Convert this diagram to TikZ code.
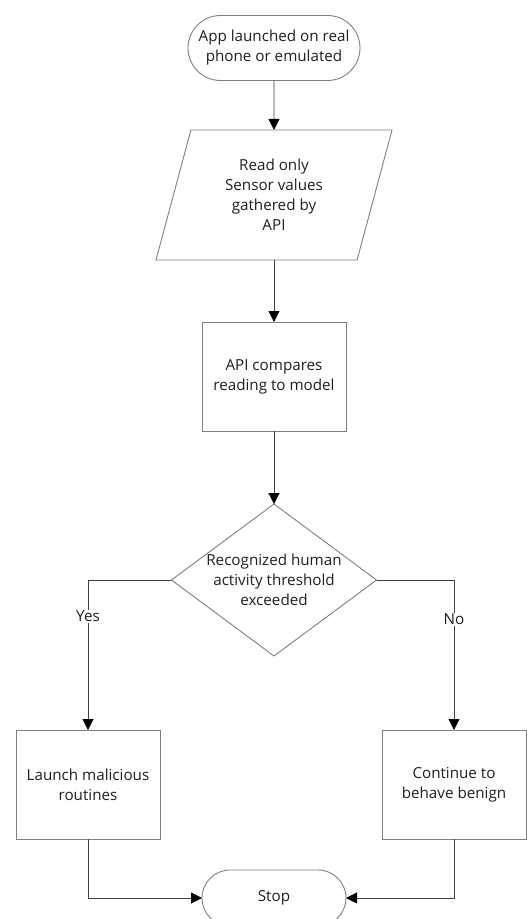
\documentclass[tikz,border=0pt]{standalone}
\usepackage{fontspec}
\setmainfont{Open Sans}
\definecolor{shapegray}{HTML}{7F7F7F}
\definecolor{linegray}{HTML}{404040}
\definecolor{textgray}{HTML}{1F1F1F}
\usetikzlibrary{arrows.meta,shapes.geometric,shapes.misc}

\tikzset{
  box/.style={draw=shapegray,line width=0.9pt,outer sep=0pt,text=textgray,align=center,
    font=\fontsize{15.2}{20}\selectfont},
  termbox/.style={box,rounded rectangle,minimum width=172pt,minimum height=65pt,inner sep=0pt},
  iobox/.style={box,trapezium,trapezium left angle=64,trapezium right angle=116,
    trapezium stretches body,minimum width=236pt,minimum height=130pt,inner sep=0pt},
  procbox/.style={box,rectangle,minimum width=144pt,minimum height=109pt,inner sep=0pt},
  decbox/.style={box,diamond,aspect=1.35,inner sep=0pt},
  flow/.style={linegray,line width=0.9pt,-{Triangle[length=11pt,width=11pt,color=black]}},
  lbl/.style={fill=white,inner sep=1pt,text=textgray,font=\fontsize{15.2}{20}\selectfont}
}

\begin{document}
\begin{tikzpicture}[x=1pt,y=1pt]
  \useasboundingbox (0,0) rectangle (527,-919);
  % main column
  \node[termbox] (launch) at (274,-48) {App launched on real\\phone or emulated};
  \node[iobox] (read) at (274,-195) {Read only\\Sensor values\\gathered by\\API};
  \node[procbox] (compare) at (274,-376.5) {API compares\\reading to model};
  \node[decbox] (human) at (274,-580) {Recognized human\\activity threshold\\exceeded};
  % branches
  \node[procbox] (malicious) at (88,-784.5) {Launch malicious\\routines};
  \node[procbox] (benign) at (454,-784.5) {Continue to\\behave benign};
  \node[termbox,minimum width=144pt,minimum height=56pt] (stop) at (274,-898) {Stop};

  \draw[flow] (launch) -- (read);
  \draw[flow] (read) -- (compare);
  \draw[flow] (compare) -- (human);
  \draw[flow] (human.west) -| node[lbl,pos=0.62] {Yes} (malicious.north);
  \draw[flow] (human.east) -| node[lbl,pos=0.63] {No} (benign.north);
  \draw[flow] (malicious.south) |- (stop.west);
  \draw[flow] (benign.south) |- (stop.east);
\end{tikzpicture}
\end{document}
